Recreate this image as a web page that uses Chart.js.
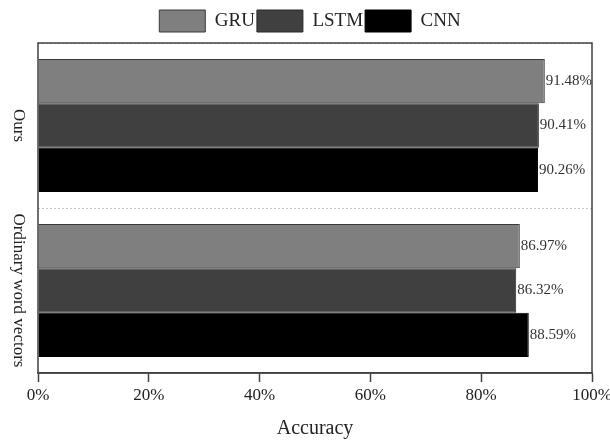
<!DOCTYPE html>
<html>
<head>
<meta charset="utf-8">
<script src="https://cdn.jsdelivr.net/npm/chart.js@4.4.1/dist/chart.umd.min.js"></script>
<style>
  html, body { margin: 0; padding: 0; background: #fff; }
  #wrap { width: 610px; height: 441px; }
</style>
</head>
<body>
<div id="wrap"><canvas id="chart" width="610" height="441"></canvas></div>
<script>
const categories = ['Ours', 'Ordinary word vectors'];
const seriesNames = ['GRU', 'LSTM', 'CNN'];
const gruValues = [91.48, 86.97];
const lstmValues = [90.41, 86.32];
const cnnValues = [90.26, 88.59];
const xTicks = [0, 20, 40, 60, 80, 100];

const serif = '"Liberation Serif", "Times New Roman", serif';
const axisColor = '#404040';

// push the plot area a bit below the legend
const legendGap = {
    id: 'legendGap',
    beforeInit(chart) {
        const fit = chart.legend.fit;
        chart.legend.fit = function() {
            fit.call(this);
            this.height += 1;
        };
    }
};

// frame around the plot, rotated category names, value labels
const decorations = {
    id: 'decorations',
    afterDatasetsDraw(chart) {
        const ctx = chart.ctx;
        ctx.save();
        ctx.font = '15px ' + serif;
        ctx.fillStyle = '#333';
        ctx.textAlign = 'left';
        ctx.textBaseline = 'middle';
        chart.data.datasets.forEach((ds, i) => {
            chart.getDatasetMeta(i).data.forEach((bar, j) => {
                ctx.fillText(ds.data[j].toFixed(2) + '%', bar.x + 1, bar.y);
            });
        });
        ctx.restore();
    },
    afterDraw(chart) {
        const ctx = chart.ctx;
        const a = chart.chartArea;
        ctx.save();
        ctx.strokeStyle = axisColor;
        ctx.lineWidth = 1.5;
        ctx.strokeRect(a.left, a.top, a.right - a.left, a.bottom - a.top);

        const yScale = chart.scales.y;
        ctx.font = '17px ' + serif;
        ctx.fillStyle = '#222';
        ctx.textAlign = 'center';
        ctx.textBaseline = 'middle';
        categories.forEach((c, i) => {
            ctx.save();
            ctx.translate(18, yScale.getPixelForValue(i));
            ctx.rotate(Math.PI / 2);
            ctx.fillText(c, 0, 0);
            ctx.restore();
        });
        ctx.restore();
    }
};

new Chart(document.getElementById('chart'), {
    type: 'bar',
    data: {
        labels: categories,
        datasets: [
            { label: seriesNames[0], data: gruValues, backgroundColor: '#7f7f7f', borderColor: '#3a3a3a', borderWidth: 1 },
            { label: seriesNames[1], data: lstmValues, backgroundColor: '#404040', borderColor: '#2a2a2a', borderWidth: 1 },
            { label: seriesNames[2], data: cnnValues, backgroundColor: '#000000', borderColor: '#000000', borderWidth: 1 }
        ]
    },
    options: {
        indexAxis: 'y',
        responsive: false,
        animation: false,
        devicePixelRatio: 1,
        categoryPercentage: 0.806,
        barPercentage: 1,
        layout: { padding: { top: 8, left: 28, right: 18, bottom: 0 } },
        plugins: {
            legend: {
                position: 'top',
                labels: {
                    boxWidth: 46,
                    boxHeight: 22,
                    padding: 2,
                    color: '#222',
                    font: { family: serif, size: 19 }
                }
            },
            tooltip: { enabled: false }
        },
        scales: {
            x: {
                min: 0,
                max: 100,
                afterBuildTicks(scale) {
                    scale.ticks = xTicks.map(v => ({ value: v }));
                },
                afterFit(scale) {
                    scale.height = 68;
                    // let the 100% label hang into the right margin
                    scale.paddingLeft = 0;
                    scale.paddingRight = 0;
                },
                grid: {
                    drawOnChartArea: false,
                    drawTicks: true,
                    tickLength: 9,
                    tickColor: axisColor,
                    tickWidth: 1.5
                },
                border: { display: true, color: axisColor, width: 1.5 },
                ticks: {
                    autoSkip: false,
                    maxRotation: 0,
                    padding: 3,
                    color: '#222',
                    font: { family: serif, size: 17 },
                    callback: v => v + '%'
                },
                title: {
                    display: true,
                    text: 'Accuracy',
                    color: '#222',
                    font: { family: serif, size: 20 },
                    padding: { top: 0, bottom: 0 }
                }
            },
            y: {
                afterFit(scale) {
                    scale.width = 10;
                },
                grid: {
                    offset: true,
                    drawTicks: false,
                    color: '#c8c8c8',
                    lineWidth: 1
                },
                border: { display: false, dash: [2, 2] },
                ticks: { display: false }
            }
        }
    },
    plugins: [legendGap, decorations]
});
</script>
</body>
</html>
